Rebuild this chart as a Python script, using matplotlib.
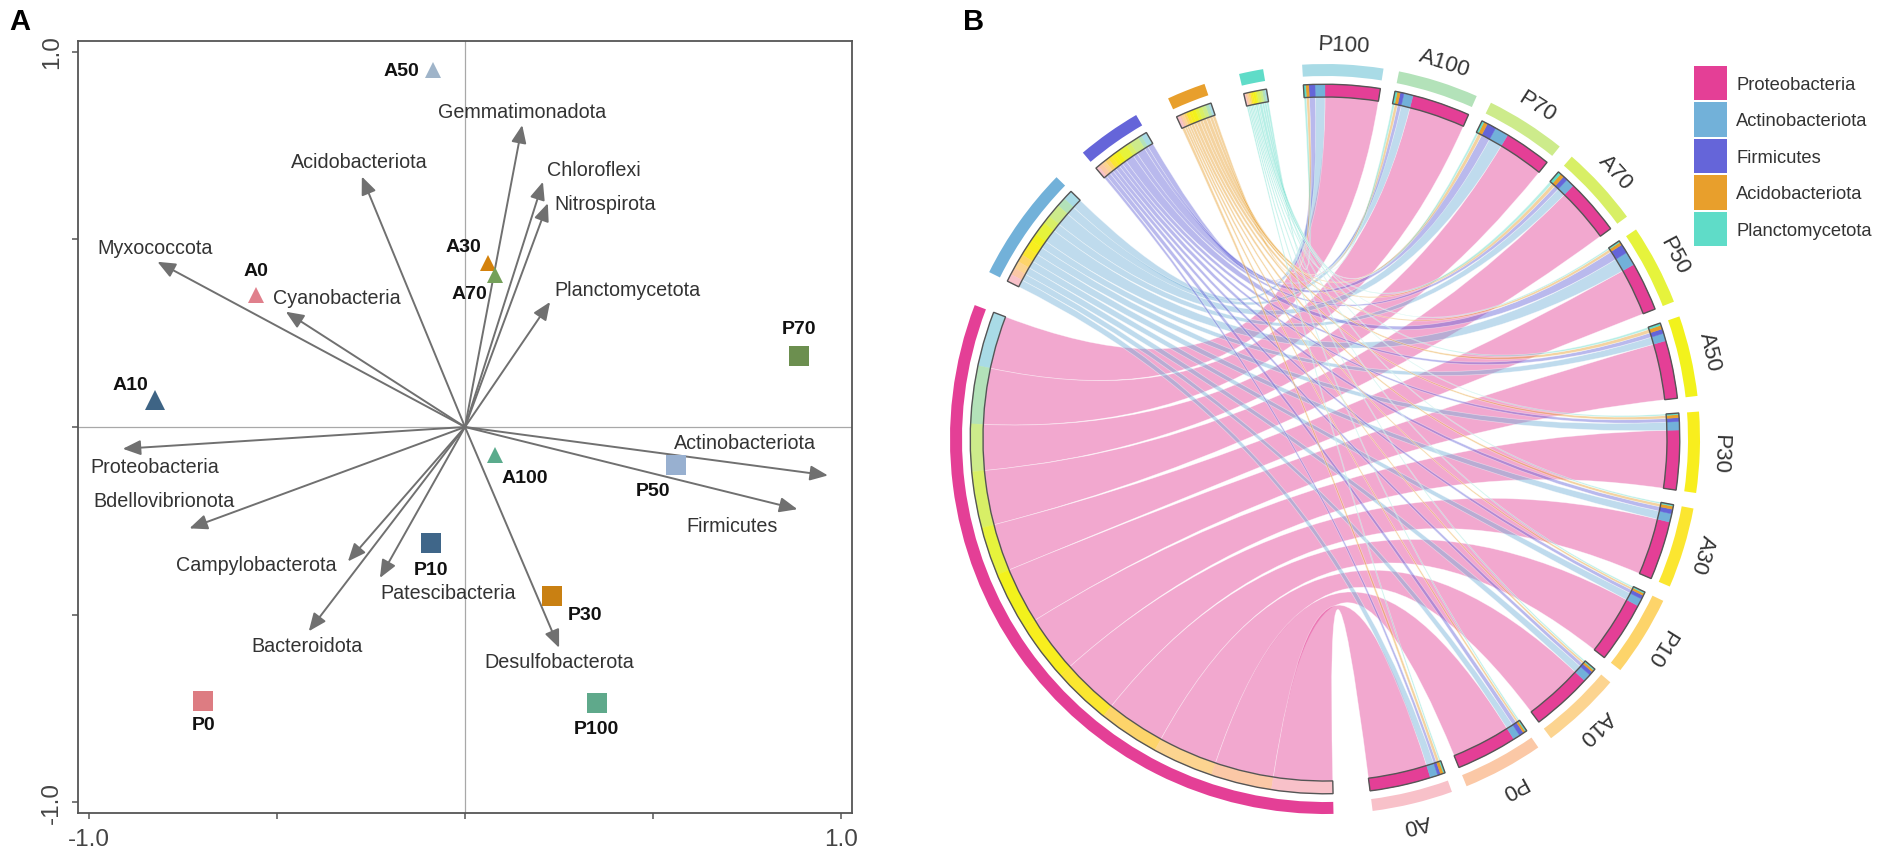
import numpy as np
import matplotlib
matplotlib.use('Agg')
import matplotlib.pyplot as plt
from matplotlib.patches import Wedge, PathPatch, Patch
from matplotlib.path import Path

plt.rcParams['font.family'] = ['Liberation Sans', 'DejaVu Sans']

# ---------------- Panel A data (RDA biplot) ----------------
rda_samples = ['A0', 'A10', 'A30', 'A50', 'A70', 'A100',
               'P0', 'P10', 'P30', 'P50', 'P70', 'P100']
rda_x = [-0.555, -0.823, 0.061, -0.085, 0.079, 0.079,
         -0.695, -0.091, 0.232, 0.561, 0.888, 0.350]
rda_y = [0.351, 0.071, 0.436, 0.950, 0.404, -0.075,
         -0.730, -0.310, -0.451, -0.102, 0.190, -0.735]

species = ['Gemmatimonadota', 'Acidobacteriota', 'Chloroflexi', 'Nitrospirota',
           'Myxococcota', 'Cyanobacteria', 'Planctomycetota', 'Actinobacteriota',
           'Firmicutes', 'Proteobacteria', 'Bdellovibrionota', 'Campylobacterota',
           'Patescibacteria', 'Bacteroidota', 'Desulfobacterota']
species_x = [0.152, -0.274, 0.207, 0.220, -0.817, -0.476, 0.226, 0.964,
             0.883, -0.909, -0.732, -0.311, -0.226, -0.415, 0.250]
species_y = [0.804, 0.667, 0.653, 0.596, 0.440, 0.307, 0.333, -0.129,
             -0.219, -0.058, -0.270, -0.358, -0.402, -0.544, -0.588]

axis_ticks = [-1.0, -0.5, 0.0, 0.5, 1.0]
axis_ticklabels = ['-1.0', '', '', '', '1.0']

# ---------------- Panel B data (chord diagram) ----------------
phyla = ['Proteobacteria', 'Actinobacteriota', 'Firmicutes',
         'Acidobacteriota', 'Planctomycetota']
chord_samples = ['P100', 'A100', 'P70', 'A70', 'P50', 'A50',
                 'P30', 'A30', 'P10', 'A10', 'P0', 'A0']
proteobacteria = [72, 76, 62, 74, 64, 76, 78, 77, 80, 80, 80, 80]
actinobacteriota = [13, 12, 18, 11, 18, 10, 11, 11, 10, 10, 9, 10]
firmicutes = [8, 5, 12, 6, 12, 6, 5, 6, 5, 5, 6, 4]
acidobacteriota = [4, 4, 5, 5, 4, 5, 4, 4, 3, 3, 3, 4]
planctomycetota = [3, 3, 3, 4, 2, 3, 2, 2, 2, 2, 2, 2]

# ---------------- styles ----------------
rda_colors = {'A0': '#e0808c', 'A10': '#3e6485', 'A30': '#d4820c', 'A50': '#9fb4c9',
              'A70': '#74a059', 'A100': '#5aab8c', 'P0': '#dd7c82', 'P10': '#3f6689',
              'P30': '#c98012', 'P50': '#98b0d0', 'P70': '#6c8f4f', 'P100': '#5fa98b'}
# label offsets (pixels) relative to the marker: dx, dy, ha
rda_label_off = {'A0': (0, 25, 'center'), 'A10': (-25, 16, 'center'),
                 'A30': (-25, 17, 'center'), 'A50': (-14, 0, 'right'),
                 'A70': (-25, -18, 'center'), 'A100': (30, -22, 'center'),
                 'P0': (0, -23, 'center'), 'P10': (0, -26, 'center'),
                 'P30': (33, -18, 'center'), 'P50': (-23, -25, 'center'),
                 'P70': (0, 27, 'center'), 'P100': (0, -26, 'center')}
marker_size = {'A10': 15}
species_label_off = {'Gemmatimonadota': (0, 14, 'center'), 'Acidobacteriota': (-3, 15, 'center'),
                     'Chloroflexi': (4, 12, 'left'), 'Nitrospirota': (7, 0, 'left'),
                     'Myxococcota': (-60, 14, 'left'), 'Cyanobacteria': (-13, 14, 'left'),
                     'Planctomycetota': (4, 12, 'left'), 'Actinobacteriota': (-12, 33, 'right'),
                     'Firmicutes': (-65, -16, 'center'), 'Proteobacteria': (-32, -18, 'left'),
                     'Bdellovibrionota': (-96, 28, 'left'), 'Campylobacterota': (-11, -3, 'right'),
                     'Patescibacteria': (0, -15, 'left'), 'Bacteroidota': (-2, -14, 'center'),
                     'Desulfobacterota': (0, -14, 'center')}

phylum_colors = ['#e43f96', '#72b1d9', '#6565d9', '#e89f2c', '#5fdcc8']
sample_colors = ['#a9dbe6', '#b3e2b9', '#cdeb8b', '#d8ef66', '#e6f33c', '#f2f21c',
                 '#f8ee1e', '#fbe630', '#fdd46a', '#fcd490', '#fbc8a6', '#f8c1c9']

PX = 0.72  # points per pixel at dpi 100

fig = plt.figure(figsize=(19.04, 8.62), dpi=100)

# ======================= Panel A =======================
axA = fig.add_axes([78 / 1904, 1 - 814 / 862, 774 / 1904, 772 / 862])
axA.set_xlim(-1.028, 1.028)
axA.set_ylim(-1.028, 1.028)
axA.axhline(0, color='#a8a8a8', lw=0.9, zorder=1)
axA.axvline(0, color='#a8a8a8', lw=0.9, zorder=1)

for name, x, y in zip(species, species_x, species_y):
    axA.annotate('', xy=(x, y), xytext=(0, 0),
                 arrowprops=dict(arrowstyle='-|>,head_length=0.9,head_width=0.38',
                                 mutation_scale=12, color='#707070', lw=1.4,
                                 shrinkA=0, shrinkB=0), zorder=2)
    dx, dy, ha = species_label_off[name]
    axA.annotate(name, xy=(x, y), xytext=(dx * PX, dy * PX), textcoords='offset points',
                 ha=ha, va='center', fontsize=14.2, color='#333333', zorder=3)

for name, x, y in zip(rda_samples, rda_x, rda_y):
    mk = '^' if name.startswith('A') else 's'
    ms = marker_size.get(name, 12 if mk == '^' else 15)
    axA.plot([x], [y], marker=mk, ms=ms, color=rda_colors[name], ls='none', zorder=4,
             markeredgewidth=0)
    dx, dy, ha = rda_label_off[name]
    axA.annotate(name, xy=(x, y), xytext=(dx * PX, dy * PX), textcoords='offset points',
                 ha=ha, va='center', fontsize=14, fontweight='bold', color='#111111',
                 zorder=5)

axA.set_xticks(axis_ticks)
axA.set_xticklabels(axis_ticklabels)
axA.set_yticks(axis_ticks)
axA.set_yticklabels(axis_ticklabels, rotation=90, va='center')
axA.tick_params(direction='out', length=4, width=1.1, color='#555555',
                labelcolor='#444444', labelsize=17.5, pad=7)
for sp in axA.spines.values():
    sp.set_color('#555555')
    sp.set_linewidth(1.3)

fig.text(9 / 1904, 1 - 8 / 862, 'A', fontsize=21, fontweight='bold', va='top', ha='left')

# ======================= Panel B =======================
axB = fig.add_axes([(1325 - 420) / 1904, (422 - 420) / 862, 840 / 1904, 840 / 862])
axB.set_xlim(-1.12, 1.12)
axB.set_ylim(-1.12, 1.12)
axB.axis('off')

M = np.array([proteobacteria, actinobacteriota, firmicutes,
              acidobacteriota, planctomycetota], dtype=float)
n_p, n_s = M.shape
sample_tot = M.sum(axis=0)
phylum_tot = M.sum(axis=1)
gap_s, gap_p, gap_big = 2.4, 5.5, 6.0
k = (360 - (n_s - 1) * gap_s - (n_p - 1) * gap_p - 2 * gap_big) / (2 * M.sum())

theta = -3.5
sample_start = []
for j in range(n_s):
    sample_start.append(theta)
    theta += sample_tot[j] * k + (gap_s if j < n_s - 1 else gap_big)
phylum_start = []
for i in range(n_p):
    phylum_start.append(theta)
    theta += phylum_tot[i] * k + (gap_p if i < n_p - 1 else gap_big)

pa = {}
for i in range(n_p):
    t = phylum_start[i]
    for j in reversed(range(n_s)):
        w = M[i, j] * k
        pa[(i, j)] = (t, t + w)
        t += w
sb = {}
for j in range(n_s):
    t = sample_start[j]
    for i in reversed(range(n_p)):
        w = M[i, j] * k
        sb[(i, j)] = (t, t + w)
        t += w

R_OUT1, R_OUT0 = 1.0, 0.968
R_IN1, R_IN0 = 0.946, 0.912


def pt(th, r):
    a = np.deg2rad(th)
    return (r * np.sin(a), r * np.cos(a))


def arc(t1, t2, r):
    ts = np.linspace(t1, t2, max(3, int(abs(t2 - t1) * 2) + 3))
    return [pt(t, r) for t in ts]


def wedge(t1, t2, r1, r0, **kw):
    return Wedge((0, 0), r1, 90 - t2, 90 - t1, width=r1 - r0, **kw)


# chords
for i in range(n_p):
    for j in range(n_s):
        a1, a2 = pa[(i, j)]
        b1, b2 = sb[(i, j)]
        verts, codes = [], []
        A = arc(a1, a2, R_IN0)
        verts += A
        codes += [Path.MOVETO] + [Path.LINETO] * (len(A) - 1)
        verts += [(0, 0), pt(b1, R_IN0)]
        codes += [Path.CURVE3, Path.CURVE3]
        B = arc(b1, b2, R_IN0)
        verts += B[1:]
        codes += [Path.LINETO] * (len(B) - 1)
        verts += [(0, 0), pt(a1, R_IN0), (0, 0)]
        codes += [Path.CURVE3, Path.CURVE3, Path.CLOSEPOLY]
        axB.add_patch(PathPatch(Path(verts, codes), facecolor=phylum_colors[i],
                                alpha=0.45, edgecolor=(1, 1, 1, 0.5), lw=0.5,
                                zorder=2 + i * 0.1))

# outer band + inner composition bars
for i in range(n_p):
    s = phylum_start[i]
    e = s + phylum_tot[i] * k
    axB.add_patch(wedge(s, e, R_OUT1, R_OUT0, facecolor=phylum_colors[i],
                        edgecolor='none', zorder=5))
    for j in range(n_s):
        a1, a2 = pa[(i, j)]
        axB.add_patch(wedge(a1, a2, R_IN1, R_IN0, facecolor=sample_colors[j],
                            edgecolor=sample_colors[j], lw=0.3, zorder=5))
    axB.add_patch(wedge(s, e, R_IN1, R_IN0, fill=False, edgecolor='#555555',
                        lw=1.0, zorder=6))

for j in range(n_s):
    s = sample_start[j]
    e = s + sample_tot[j] * k
    axB.add_patch(wedge(s, e, R_OUT1, R_OUT0, facecolor=sample_colors[j],
                        edgecolor='none', zorder=5))
    for i in range(n_p):
        b1, b2 = sb[(i, j)]
        axB.add_patch(wedge(b1, b2, R_IN1, R_IN0, facecolor=phylum_colors[i],
                            edgecolor=phylum_colors[i], lw=0.3, zorder=5))
    axB.add_patch(wedge(s, e, R_IN1, R_IN0, fill=False, edgecolor='#555555',
                        lw=1.0, zorder=6))
    mid = (s + e) / 2
    x, y = pt(mid, 1.025)
    axB.text(x, y, chord_samples[j], rotation=-mid, rotation_mode='anchor',
             ha='center', va='bottom', fontsize=16, color='#333333', zorder=7)

handles = [Patch(facecolor=c, edgecolor='none', label=n)
           for n, c in zip(phyla, phylum_colors)]
fig.legend(handles=handles, loc='upper left', bbox_to_anchor=(1694 / 1904, 1 - 67 / 862),
           bbox_transform=fig.transFigure, frameon=False, fontsize=13.2,
           handlelength=1.8, handleheight=2.5, labelspacing=0.12, handletextpad=0.5,
           borderaxespad=0, borderpad=0, labelcolor='#333333')

fig.text(963 / 1904, 1 - 8 / 862, 'B', fontsize=21, fontweight='bold', va='top', ha='left')

fig.savefig('out.png', dpi=100)
